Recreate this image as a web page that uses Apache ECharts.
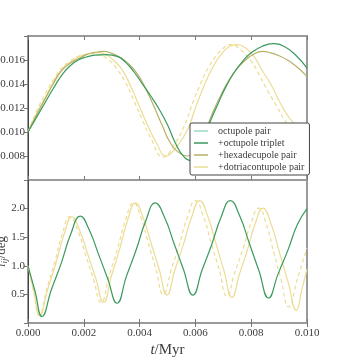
<!DOCTYPE html>
<html>
<head>
<meta charset="utf-8">
<script src="https://cdn.jsdelivr.net/npm/echarts@6/dist/echarts.min.js"></script>
<style>
  html, body { margin: 0; padding: 0; background: #fff; }
  #chart { width: 343px; height: 360px; }
</style>
</head>
<body>
<div id="chart"></div>
<script>
// legend names
const names = ["octupole pair", "+octupole triplet", "+hexadecupole pair", "+dotriacontupole pair"];

// top panel, t in units of 1e-3 Myr, value
const topOctPair = [];
const topOctTriplet = [
  [0, 0.0100], [0.3, 0.0112], [0.6, 0.0124], [0.9, 0.0136], [1.2, 0.0147], [1.5, 0.0155],
  [1.8, 0.0160], [2.1, 0.01625], [2.4, 0.0164], [2.8, 0.01644], [3.2, 0.0163], [3.5, 0.0158],
  [3.8, 0.0150], [4.1, 0.0140], [4.4, 0.0130], [4.7, 0.0119], [5.0, 0.0106], [5.3, 0.0090],
  [5.6, 0.0079], [5.85, 0.0076], [6.1, 0.0084], [6.5, 0.0107], [6.8, 0.0123], [7.1, 0.0138],
  [7.4, 0.0150], [7.7, 0.0159], [8.0, 0.0166], [8.4, 0.01715], [8.8, 0.01736], [9.2, 0.0171],
  [9.6, 0.0164], [10.0, 0.01533]
];
const topHexPair = [
  [0, 0.0100], [0.3, 0.0114], [0.6, 0.0127], [0.9, 0.0140], [1.2, 0.0151], [1.5, 0.0157],
  [1.8, 0.0161], [2.1, 0.01645], [2.4, 0.01662], [2.7, 0.01672], [3.0, 0.01655], [3.3, 0.0162],
  [3.6, 0.0157], [3.9, 0.0149], [4.2, 0.0137], [4.5, 0.0122], [4.8, 0.0106], [5.1, 0.0091],
  [5.4, 0.0083], [5.7, 0.0080], [6.0, 0.0084], [6.3, 0.0097], [6.6, 0.0115], [6.9, 0.0130],
  [7.2, 0.0143], [7.5, 0.0153], [7.8, 0.0160], [8.1, 0.0165], [8.4, 0.01672], [8.7, 0.0166],
  [9.0, 0.01635], [9.3, 0.0160], [9.6, 0.0155], [10.0, 0.01464]
];
const topDotPair = [
  [0, 0.0100], [0.3, 0.0115], [0.6, 0.0128], [0.9, 0.0141], [1.2, 0.0152], [1.5, 0.0158],
  [1.8, 0.01625], [2.1, 0.0165], [2.4, 0.01664], [2.8, 0.01644], [3.1, 0.0159], [3.4, 0.0151],
  [3.7, 0.0137], [4.0, 0.0121], [4.3, 0.0105], [4.6, 0.0091], [4.95, 0.0080], [5.3, 0.0087],
  [5.7, 0.0101], [6.0, 0.0120], [6.3, 0.0138], [6.6, 0.0153], [6.9, 0.0164], [7.2, 0.0171],
  [7.5, 0.01728], [7.8, 0.0170], [8.1, 0.0163], [8.4, 0.0151], [8.7, 0.0140], [9.0, 0.0126],
  [9.3, 0.0114], [9.6, 0.0106], [10.0, 0.0100]
];
const topDashed = [
  [0, 0.0100], [0.3, 0.0117], [0.6, 0.0131], [0.9, 0.0143], [1.2, 0.0153], [1.5, 0.0159],
  [1.8, 0.0163], [2.1, 0.01648], [2.3, 0.01653], [2.6, 0.0164], [2.9, 0.0160], [3.2, 0.0152],
  [3.5, 0.0141], [3.8, 0.0126], [4.1, 0.0110], [4.4, 0.0095], [4.85, 0.0079], [5.2, 0.0088],
  [5.6, 0.0105], [5.9, 0.0124], [6.2, 0.0141], [6.5, 0.0155], [6.8, 0.0165], [7.0, 0.0170],
  [7.27, 0.01728], [7.6, 0.0169], [8.0, 0.0159], [8.3, 0.0147], [8.6, 0.0134], [8.9, 0.0122],
  [9.2, 0.0110], [9.5, 0.0101], [10.0, 0.0093]
];

// bottom panel, t in units of 1e-3 Myr, deg
const botOctTriplet = [
  [0, 1.0], [0.25, 0.56], [0.5, 0.114], [0.84, 0.587], [1.19, 1.043], [1.53, 1.551], [1.875, 1.867],
  [2.2, 1.62], [2.53, 1.20], [2.86, 0.77], [3.19, 0.345], [3.53, 0.819], [3.875, 1.275],
  [4.22, 1.784], [4.56, 2.10], [4.9, 1.84], [5.235, 1.39], [5.57, 0.94], [5.91, 0.488],
  [6.245, 0.934], [6.58, 1.364], [6.915, 1.843], [7.25, 2.14], [7.59, 1.87], [7.935, 1.39],
  [8.28, 0.91], [8.62, 0.437], [8.965, 0.859], [9.31, 1.265], [9.655, 1.72], [10.0, 2.0]
];
const botDotPair = [
  [0, 1.0], [0.21, 0.55], [0.42, 0.13], [0.71, 0.596], [1.0, 1.044], [1.29, 1.545], [1.58, 1.855],
  [1.86, 1.61], [2.145, 1.20], [2.43, 0.78], [2.71, 0.36], [2.995, 0.83], [3.28, 1.282],
  [3.565, 1.787], [3.85, 2.10], [4.13, 1.84], [4.415, 1.39], [4.7, 0.94], [4.98, 0.49],
  [5.27, 0.936], [5.565, 1.365], [5.86, 1.843], [6.15, 2.14], [6.44, 1.87], [6.73, 1.40],
  [7.02, 0.92], [7.31, 0.45], [7.59, 0.871], [7.865, 1.277], [8.14, 1.73], [8.42, 2.01],
  [8.72, 1.72], [9.02, 1.22], [9.32, 0.72], [9.62, 0.22], [9.81, 0.57], [10.0, 0.94]
];
const botDashed = [
  [0, 1.0], [0.2, 0.55], [0.4, 0.13], [0.675, 0.597], [0.95, 1.047], [1.225, 1.549], [1.5, 1.86],
  [1.78, 1.62], [2.06, 1.20], [2.34, 0.78], [2.62, 0.36], [2.91, 0.83], [3.2, 1.282],
  [3.49, 1.787], [3.78, 2.10], [4.05, 1.84], [4.315, 1.39], [4.58, 0.95], [4.85, 0.50],
  [5.14, 0.943], [5.425, 1.369], [5.71, 1.845], [6.0, 2.14], [6.28, 1.87], [6.565, 1.40],
  [6.85, 0.94], [7.13, 0.47], [7.415, 0.886], [7.7, 1.286], [7.985, 1.733], [8.27, 2.01],
  [8.54, 1.73], [8.805, 1.24], [9.07, 0.76], [9.34, 0.28], [9.67, 0.80], [10.0, 1.31]
];

const colors = ["#9cd8c8", "#3a9a5c", "#b7b064", "#ecdc94"];
const font = "Liberation Serif";
const frame = "#9a9a9a";
const textCol = "#3c3c3c";

// t 轴以 1e-3 Myr 存放，这里换回 Myr
const toMyr = (arr) => arr.map((p) => [p[0] / 1000, p[1]]);

const chart = echarts.init(document.getElementById("chart"));

// 通用的轴设置
const xAxisBase = (grid, pos, labels) => ({
  type: "value", gridIndex: grid, position: pos, min: 0, max: 0.010, interval: 0.002,
  axisLine: { show: false },
  axisTick: { show: true, inside: true, length: 4, lineStyle: { color: "#777", width: 1 } },
  splitLine: { show: false },
  axisLabel: {
    show: labels, fontFamily: font, fontSize: 11, color: textCol, margin: 5,
    formatter: (v) => v.toFixed(3)
  }
});

const yAxisBase = (grid, pos, min, max, step, digits) => ({
  type: "value", gridIndex: grid, position: pos, min: min, max: max, interval: step,
  axisLine: pos === "left" ? { show: true, lineStyle: { color: "#444", width: 1 } } : { show: false },
  axisTick: pos === "left"
    ? { show: true, inside: false, length: 2, lineStyle: { color: "#444", width: 1 } }
    : { show: true, inside: true, length: 4, lineStyle: { color: "#777", width: 1 } },
  splitLine: { show: false },
  axisLabel: {
    show: pos === "left", showMinLabel: false, showMaxLabel: false,
    fontFamily: font, fontSize: 11, color: textCol, margin: 3,
    formatter: (v) => v.toFixed(digits)
  }
});

const lineSeries = (name, data, color, xi, yi, dashed) => ({
  name: name, type: "line", data: toMyr(data), xAxisIndex: xi, yAxisIndex: yi,
  smooth: 0.5, showSymbol: false, symbol: "none",
  lineStyle: { color: color, width: 1.2, type: dashed ? [4, 3] : "solid" },
  itemStyle: { color: color },
  emphasis: { disabled: true }
});

const xAxes = [
  xAxisBase(0, "bottom", false),
  xAxisBase(0, "top", false),
  xAxisBase(1, "bottom", true),
  xAxisBase(1, "top", false)
];
xAxes[2].name = "{it|t}/Myr";
xAxes[2].nameLocation = "middle";
xAxes[2].nameGap = 20;
xAxes[2].nameMoveOverlap = false;
xAxes[2].nameTextStyle = {
  fontFamily: font, fontSize: 15, color: textCol,
  rich: { it: { fontFamily: font, fontStyle: "italic", fontSize: 15, color: textCol } }
};

const yAxes = [
  yAxisBase(0, "left", 0.006, 0.018, 0.002, 3),
  yAxisBase(0, "right", 0.006, 0.018, 0.002, 3),
  yAxisBase(1, "left", 0, 2.5, 0.5, 1),
  yAxisBase(1, "right", 0, 2.5, 0.5, 1)
];
yAxes[2].name = "{it|i}{sub|ij}/deg";
yAxes[2].nameLocation = "middle";
yAxes[2].nameGap = 19;
yAxes[2].nameMoveOverlap = false;
yAxes[2].nameTextStyle = {
  fontFamily: font, fontSize: 13, color: textCol,
  rich: {
    it: { fontFamily: font, fontStyle: "italic", fontSize: 13, color: textCol },
    sub: { fontFamily: font, fontStyle: "italic", fontSize: 9, color: textCol, verticalAlign: "bottom", padding: [6, 0, 0, 0] }
  }
};

chart.setOption({
  animation: false,
  backgroundColor: "#fff",
  grid: [
    { left: 28, right: 36, top: 36, height: 144, containLabel: false, outerBoundsMode: "none",
      show: true, borderColor: frame, borderWidth: 2, backgroundColor: "transparent" },
    { left: 28, right: 36, top: 180, height: 143, containLabel: false, outerBoundsMode: "none",
      show: true, borderColor: frame, borderWidth: 2, backgroundColor: "transparent" }
  ],
  xAxis: xAxes,
  yAxis: yAxes,
  legend: {
    data: names,
    orient: "vertical",
    left: 190, top: 123,
    padding: [3, 5, 3, 4],
    itemGap: 2,
    itemWidth: 14, itemHeight: 1.5,
    icon: "rect",
    backgroundColor: "#fff",
    borderColor: "#444", borderWidth: 1, borderRadius: 2,
    textStyle: { fontFamily: font, fontSize: 10, color: textCol, padding: [0, 0, 0, 5] }
  },
  series: [
    lineSeries(names[0], topOctPair, colors[0], 0, 0, false),
    lineSeries(names[3], topDotPair, colors[3], 0, 0, false),
    lineSeries("dashed", topDashed, colors[3], 0, 0, true),
    lineSeries(names[2], topHexPair, colors[2], 0, 0, false),
    lineSeries(names[1], topOctTriplet, colors[1], 0, 0, false),
    lineSeries(names[3], botDotPair, colors[3], 2, 2, false),
    lineSeries("dashed", botDashed, colors[3], 2, 2, true),
    lineSeries(names[1], botOctTriplet, colors[1], 2, 2, false)
  ]
});
</script>
</body>
</html>
